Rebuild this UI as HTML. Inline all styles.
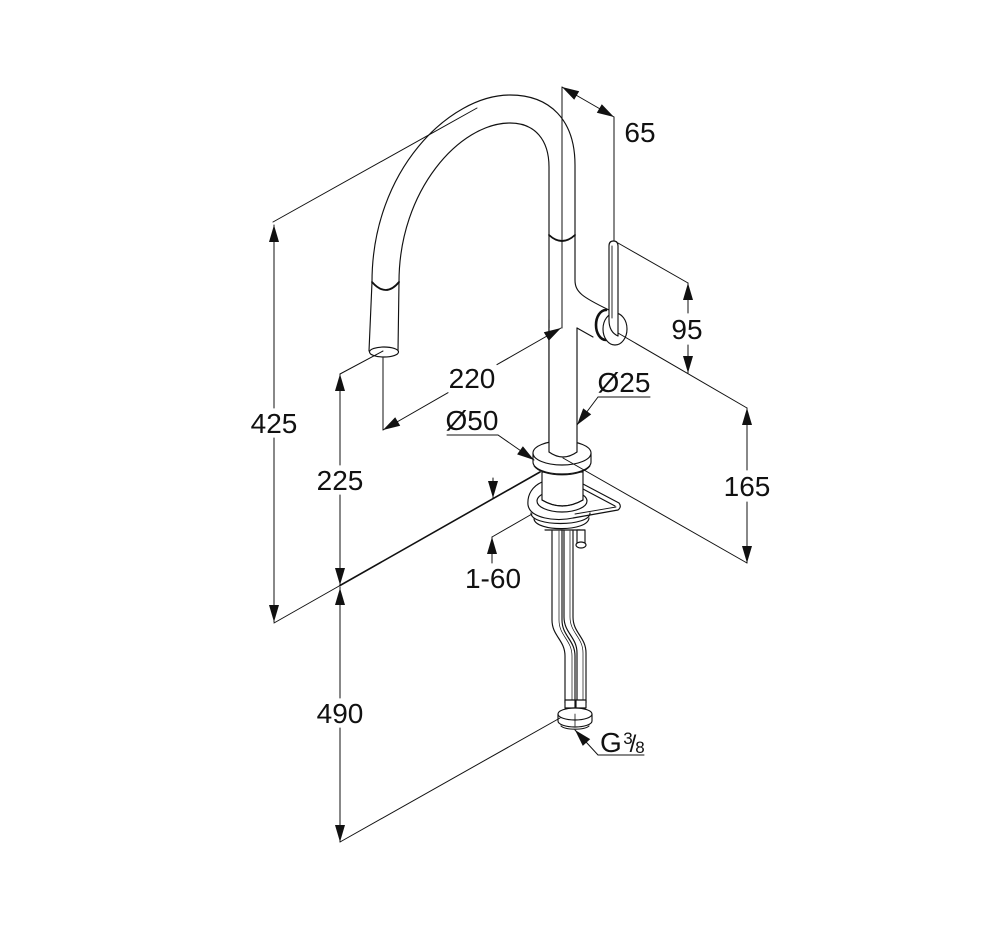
<!DOCTYPE html>
<html><head><meta charset="utf-8"><style>
html,body{margin:0;padding:0;background:#fff;}
svg{display:block;}
text{font-family:"Liberation Sans",Arial,sans-serif;font-size:28px;fill:#111;text-anchor:middle;}
</style></head><body>
<svg width="1007" height="933" viewBox="0 0 1007 933" xmlns="http://www.w3.org/2000/svg">
<rect width="1007" height="933" fill="#fff"/>

<!-- ===== FAUCET GEOMETRY ===== -->
<g fill="none" stroke="#111" stroke-width="1.15" stroke-linecap="round" stroke-linejoin="round">
  <!-- spout outer -->
  <path d="M369,351 L372,282 C372,170 450,95 510,95 C550,95 575,120 575,165 L575,280 C575,292 582,297 609,310"/>
  <!-- spout inner -->
  <path d="M398,351 L399,282 C399,190 460,123 510,123 C535,123 549,140 549,167 L549,452"/>
  <!-- bands -->
  <path d="M372,282 Q386,298 399,282" stroke-width="1.8"/>
  <path d="M549,235 Q562,247 575,235" stroke-width="1.8"/>
  <!-- nozzle bottom -->
  <ellipse cx="384" cy="352" rx="14.5" ry="5" fill="#fff"/>

  <!-- plate (behind ring cylinder) -->
  <path d="M583,484 L619,503 Q622,507 618,510 L573,518 C555,522 530,518 528,505 C527,494 533,486 542,482" fill="#fff"/>
  <path d="M583,489 L615,506"/>
  <path d="M575,514 L616,507" stroke-width="0.9"/>
  <ellipse cx="562" cy="501" rx="25" ry="11"/>
  <!-- lower nut rings -->
  <path d="M531,513 C531,527 590,527 590,513"/>
  <path d="M534,519 C536,532 588,532 589,518"/>
  <path d="M545,530 L580,530"/>
  <!-- cylinder under ring -->
  <path d="M542,472 V500 Q562,512 583,500 V472 Z" fill="#fff"/>
  <path d="M542,500 Q562,512 583,500"/>
  <!-- ring -->
  <path d="M533,453 V462 A29 12 0 0 0 591,462 V453" fill="#fff"/>
  <path d="M534,466 A29 12 0 0 0 590,466" stroke-width="0.9"/>
  <ellipse cx="562" cy="453" rx="29" ry="12" fill="#fff"/>
  <!-- stem -->
  <path d="M549,328 V452 Q563,462 577,452 V328 Z" fill="#fff" stroke="none"/>
  <path d="M549,320 V452"/>
  <path d="M577,328 V452"/>
  <path d="M549,452 Q563,462 577,452"/>
  <path d="M577,328 L593,337"/>

  <!-- bolt -->
  <rect x="577" y="530" width="8" height="13" fill="#fff"/>
  <ellipse cx="581" cy="545" rx="5" ry="3" fill="#fff"/>

  <!-- pipes -->
  <path d="M552,531 V620 C552,636 565,640 565,656 V703"/>
  <path d="M562,531 V620 C562,636 575,640 575,656 V703"/>
  <path d="M564,531 V617 C564,633 577,637 577,653 V703"/>
  <path d="M573,531 V617 C573,633 586,637 586,653 V703"/>
  <path d="M559,531 V620 C559,636 572,640 572,656 V703" stroke-width="0.7"/>
  <path d="M570,531 V617 C570,633 583,637 583,653 V703" stroke-width="0.7"/>
  <!-- fittings -->
  <rect x="565" y="700" width="10" height="8" fill="#fff"/>
  <rect x="576" y="700" width="10" height="8" fill="#fff"/>
  <path d="M558,714 V721 A17 6 0 0 0 592,721 V714" fill="#fff"/>
  <ellipse cx="575" cy="714" rx="17" ry="6" fill="#fff"/>
  <path d="M561,726 A15 5 0 0 0 589,726"/>
  <path d="M575,714 V726" stroke-width="0.8"/>

  <!-- handle -->
  <path d="M606,310 A10 15 0 0 0 606,340" stroke-width="2.6"/>
  <ellipse cx="615" cy="329" rx="12" ry="16" fill="#fff"/>
  <path d="M609,320 L609,246 Q609,241 613.5,241 Q618,241 618,246 L618,336" fill="#fff"/>
  <path d="M609,320 Q609,332 618,336"/>
  <path d="M612,246 V318" stroke-width="0.9"/>
</g>

<!-- ===== DIMENSIONS ===== -->
<g fill="none" stroke="#111" stroke-width="1" stroke-linecap="round">
  <path d="M274,225 V408 M274,438 V622"/>
  <path d="M273,222 L477,108"/>
  <path d="M274,623 L340,585.5"/>
  <path d="M340,585.5 L540,472" stroke-width="1.6"/>
  <path d="M340,374 V465 M340,495 V585"/>
  <path d="M340,374 L383,351"/>
  <path d="M383,358 V430"/>
  <path d="M383,430 L448,392.7 M497,364.6 L561,328"/>
  <path d="M340,587 V698 M340,728 V842"/>
  <path d="M340,842 L560,718"/>
  <path d="M493,478 V498"/>
  <path d="M492,537 V563"/>
  <path d="M492,537 L532,514"/>
  <path d="M447,435 H498 L534,460"/>
  <path d="M598,397 H650 M598,397 L577,425"/>
  <path d="M562,87 L614,117"/>
  <path d="M562,87 V328"/>
  <path d="M614,117 V241"/>
  <path d="M618,243 L688,283"/>
  <path d="M688,283 V313 M688,345 V373"/>
  <path d="M618,333 L747,408"/>
  <path d="M747,408 V470 M747,502 V563"/>
  <path d="M563,458 L747,563"/>
  <path d="M575,730 L598,755 H644"/>
</g>

<!-- arrowheads -->
<g fill="#111" stroke="none">
  <polygon points="274,225 269,242 279,242"/>
  <polygon points="274,622 269,605 279,605"/>
  <polygon points="340,374 335,391 345,391"/>
  <polygon points="340,585 335,568 345,568"/>
  <polygon points="340,588 335,605 345,605"/>
  <polygon points="340,842 335,825 345,825"/>
  <polygon points="688,283 683,300 693,300"/>
  <polygon points="688,373 683,356 693,356"/>
  <polygon points="747,408 742,425 752,425"/>
  <polygon points="747,563 742,546 752,546"/>
  <polygon points="493,498 488,481 498,481"/>
  <polygon points="492,537 487,554 497,554"/>
  <polygon points="383,430 400.2,425.8 395.2,417.2"/>
  <polygon points="561,328 548.8,340.8 543.8,332.2"/>
  <polygon points="562,87 574.2,99.8 579.2,91.2"/>
  <polygon points="614,117 596.8,112.8 601.8,104.2"/>
  <polygon points="577,425 591.2,414.4 583.2,408.4"/>
  <polygon points="534,460 517.1,454.4 522.9,446.2"/>
  <polygon points="575,730 590.2,739.1 582.8,745.9"/>
</g>

<!-- labels -->
<text x="274" y="433">425</text>
<text x="340" y="490">225</text>
<text x="472" y="388">220</text>
<text x="472" y="430">Ø50</text>
<text x="493" y="588">1-60</text>
<text x="340" y="723">490</text>
<text x="624" y="392">Ø25</text>
<text x="640" y="142">65</text>
<text x="687" y="339">95</text>
<text x="747" y="496">165</text>
<text x="600" y="752" style="text-anchor:start">G</text>
<text x="628" y="744" style="font-size:17px">3</text>
<text x="633" y="752" style="font-size:24px">/</text>
<text x="640" y="753" style="font-size:17px">8</text>
</svg>
</body></html>
